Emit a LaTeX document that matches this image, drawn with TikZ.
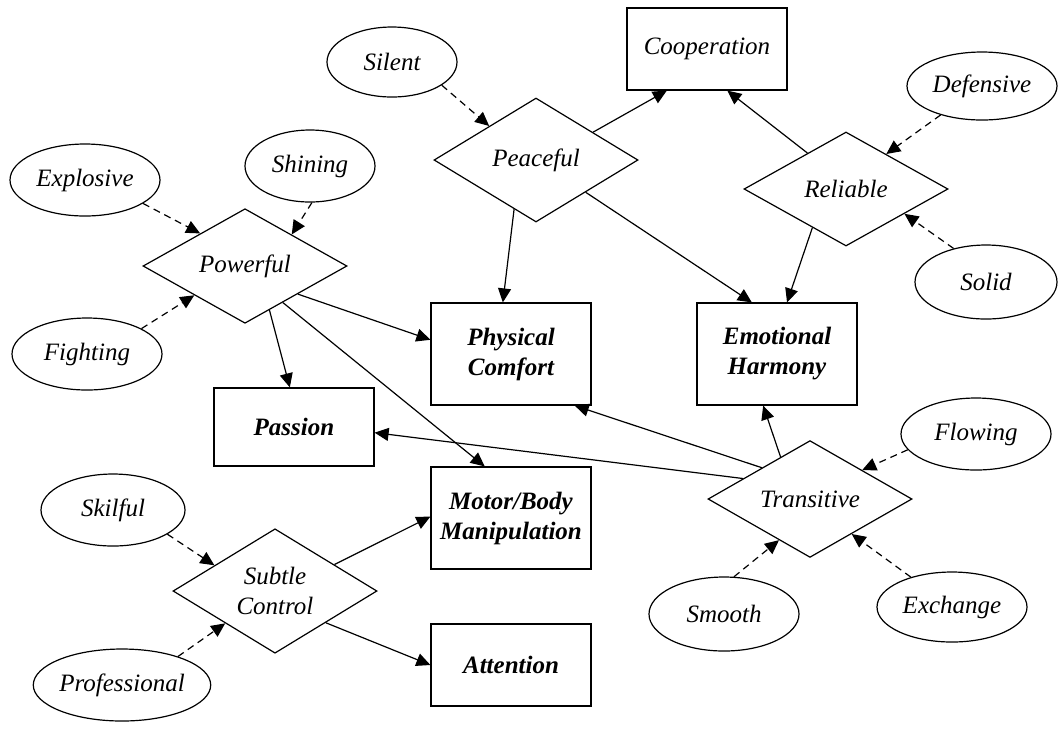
\documentclass[tikz,border=0pt]{standalone}
\usepackage{fontspec}
\setmainfont{Liberation Serif}
\usepackage{tikz}
\usetikzlibrary{arrows.meta}
\usetikzlibrary{shapes}
\tikzstyle{adj}=[draw=black,ellipse,line width=0.6pt,inner sep=0pt,minimum width=75pt,minimum height=36pt,font=\fontsize{12.5}{15}\selectfont\itshape]
\tikzstyle{rel}=[draw=black,diamond,line width=0.6pt,inner sep=0pt,minimum width=102pt,minimum height=57pt,align=center,font=\fontsize{12.5}{15}\selectfont\itshape]
\tikzstyle{box}=[draw=black,rectangle,line width=0.6pt,inner sep=0pt,minimum width=80pt,minimum height=51pt,align=center,font=\fontsize{12.5}{15}\selectfont\bfseries\itshape]
\tikzstyle{link}=[line width=0.6pt,-{Triangle[length=7pt,width=6.5pt]}]
\tikzstyle{hint}=[line width=0.6pt,dash pattern=on 3.5pt off 2.5pt,-{Triangle[length=7pt,width=6.5pt]}]

\begin{document}
\begin{tikzpicture}[x=0.5pt,y=-0.5pt]
\useasboundingbox (0,0) rectangle (1059,730);
\node[adj,minimum width=65pt,minimum height=35pt] (silent) at (392,62) {Silent};
\node[adj] (explosive) at (85,180) {Explosive};
\node[adj,minimum width=65pt] (shining) at (310,166) {Shining};
\node[adj] (fighting) at (87,354) {Fighting};
\node[adj,minimum height=34pt] (defensive) at (982,86) {Defensive};
\node[adj,minimum width=71pt,minimum height=37pt] (solid) at (986,282) {Solid};
\node[adj] (flowing) at (976,434) {Flowing};
\node[adj,minimum height=37pt] (smooth) at (724,614) {Smooth};
\node[adj,minimum height=35pt] (exchange) at (952,607) {Exchange};
\node[adj,minimum width=72pt] (skilful) at (113,510) {Skilful};
\node[adj,minimum width=80pt] (professional) at (122,685) {Professional};
\node[rel,minimum height=62pt] (peaceful) at (536,160) {Peaceful};
\node[rel] (powerful) at (245,266) {Powerful};
\node[rel] (reliable) at (846,189) {Reliable};
\node[rel] (transitive) at (810,499) {Transitive};
\node[rel] (subtle) at (275,591) {Subtle\\Control};
\node[box,minimum height=41pt,font=\fontsize{12.5}{15}\selectfont\itshape] (coop) at (707,49) {Cooperation};
\node[box] (physical) at (511,354) {Physical\\Comfort};
\node[box] (emotional) at (777,354) {Emotional\\Harmony};
\node[box,minimum height=39pt] (passion) at (294,427) {Passion};
\node[box] (motor) at (511,518) {Motor/Body\\Manipulation};
\node[box,minimum height=41pt] (attention) at (511,665) {Attention};
\draw[hint] (silent.335) -- (peaceful.144);
\draw[hint] (explosive.338) -- (powerful.144);
\draw[hint] (shining.273) -- (powerful.34);
\draw[hint] (fighting.25) -- (powerful.210);
\draw[hint] (defensive.215) -- (reliable.41);
\draw[hint] (solid.134) -- (reliable.337);
\draw[hint] (flowing.193) -- (transitive.29);
\draw[hint] (smooth.75) -- (transitive.233);
\draw[hint] (exchange.144) -- (transitive.320);
\draw[hint] (skilful.336) -- (subtle.157);
\draw[hint] (professional.27) -- (subtle.213);
\draw[link] (peaceful.26) -- (coop.226);
\draw[link] (reliable.137) -- (coop.296);
\draw[link] (peaceful.246) -- (physical.99);
\draw[link] (peaceful.327) -- (emotional.116);
\draw[link] (reliable.229) -- (emotional.79);
\draw[link] (powerful.332) -- (physical.170);
\draw[link] (powerful.299) -- (passion.96);
\draw[link] (powerful.316) -- (motor.117);
\draw[link] (transitive.125) -- (emotional.255);
\draw[link] (transitive.147) -- (physical.321);
\draw[link] (transitive.163) -- (passion.356);
\draw[link] (subtle.24) -- (motor.179);
\draw[link] (subtle.328) -- (attention.180);
\end{tikzpicture}
\end{document}
